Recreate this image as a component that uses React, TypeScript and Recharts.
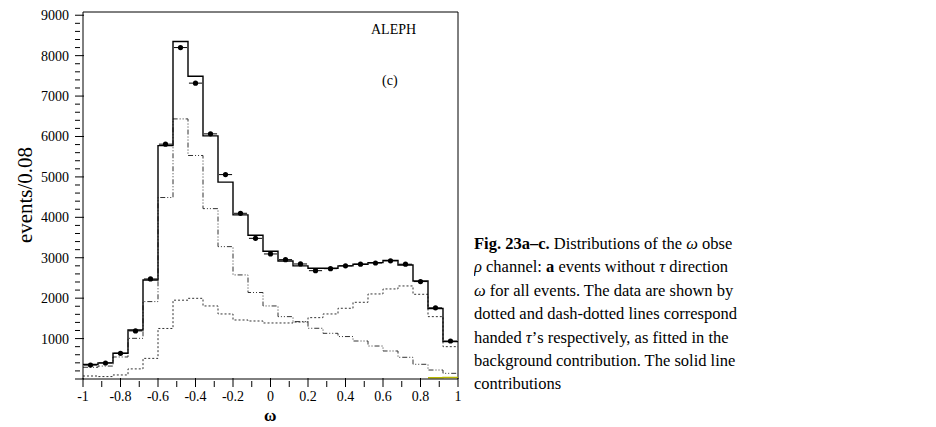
import React from "react";
import { ComposedChart, Line, Scatter, ErrorBar, XAxis, YAxis, ReferenceLine } from "recharts";

const binEdges = [-1,-0.92,-0.84,-0.76,-0.68,-0.6,-0.52,-0.44,-0.36,-0.28,-0.2,-0.12,-0.04,0.04,0.12,0.2,0.28,0.36,0.44,0.52,0.6,0.68,0.76,0.84,0.92,1];
const totalFit = [360,400,636,1213,2450,5775,8350,7490,6015,4870,4060,3556,3160,2920,2800,2740,2740,2800,2840,2880,2930,2820,2425,1745,925];
const dataPts = [346,396,636,1190,2475,5810,8200,7320,6065,5057,4100,3480,3094,2953,2846,2680,2730,2800,2840,2870,2925,2840,2410,1760,940];
const leftTau = [290,320,545,1006,1915,4490,6435,5530,4215,3275,2575,2140,1807,1543,1420,1255,1130,1050,940,816,693,537,364,222,140];
const rightTau = [74,60,100,250,510,1250,1950,1996,1807,1609,1460,1435,1386,1386,1410,1518,1609,1750,1898,2104,2228,2302,2096,1543,800];
const background = [null,null,null,null,null,null,null,null,null,null,null,null,null,null,null,null,null,null,null,null,null,null,null,30,40];
const xTicks = [-1,-0.9,-0.8,-0.7,-0.6,-0.5,-0.4,-0.3,-0.2,-0.1,0,0.1,0.2,0.3,0.4,0.5,0.6,0.7,0.8,0.9,1];
const xLabels = ["-1","-0.8","-0.6","-0.4","-0.2","0","0.2","0.4","0.6","0.8","1"];
const yTicks = Array.from({ length: 46 }, (_, i) => i * 200);
const caption = [
  "<b>Fig. 23a–c.</b> Distributions of the <i>ω</i> obse",
  "<i>ρ</i> channel: <b>a</b> events without <i>τ</i> direction",
  "<i>ω</i> for all events. The data are shown by",
  "dotted and dash-dotted lines correspond",
  "handed <i>τ</i>’s respectively, as fitted in the",
  "background contribution. The solid line",
  "contributions",
];

const hist = binEdges.map((x, i) => ({
  x,
  total: totalFit[Math.min(i, 24)],
  left: leftTau[Math.min(i, 24)],
  right: rightTau[Math.min(i, 24)],
  bg: background[Math.min(i, 24)],
}));
const pts = dataPts.map((y, i) => ({ x: (binEdges[i] + binEdges[i + 1]) / 2, y, xerr: 0.035 }));

const fmtX = (v: number) => {
  const s = String(Math.round(v * 10) / 10);
  return xLabels.includes(s) ? s : null;
};
const tstyle = { fontSize: 14, fontFamily: "Liberation Serif", fill: "#000" };

const XTick = (p: any) => {
  const lab = fmtX(p.payload.value);
  return (
    <g>
      <line x1={p.x} x2={p.x} y1={p.y} y2={p.y - (lab ? 9 : 6)} stroke="#000" />
      {lab && <text x={p.x} y={p.y + 14} textAnchor="middle" style={tstyle}>{lab}</text>}
    </g>
  );
};
const YTick = (p: any) => {
  const v = p.payload.value;
  const major = v % 1000 === 0;
  return (
    <g>
      <line x1={p.x} x2={p.x + (major ? 9 : 5)} y1={p.y} y2={p.y} stroke="#000" />
      {major && v > 0 && <text x={p.x - 6} y={p.y + 5} textAnchor="end" style={tstyle}>{v}</text>}
    </g>
  );
};

export default function App() {
  return (
    <div style={{ position: "absolute", left: 0, top: 0, width: 936, height: 427, background: "#fff", fontFamily: "Liberation Serif" }}>
      <ComposedChart width={470} height={427} data={hist} margin={{ top: 12, right: 12, bottom: 0, left: 0 }}>
        <XAxis dataKey="x" type="number" domain={[-1, 1]} ticks={xTicks} tick={<XTick />} tickLine={false} height={48} stroke="#000" interval={0} allowDataOverflow />
        <YAxis type="number" domain={[0, 9080]} ticks={yTicks} tick={<YTick />} tickLine={false} width={83} stroke="#000" interval={0} allowDataOverflow />
        <ReferenceLine y={9080} stroke="#000" />
        <ReferenceLine x={1} stroke="#000" />
        <Line dataKey="bg" type="stepAfter" stroke="#b8b800" strokeWidth={1.5} dot={false} connectNulls={false} isAnimationActive={false} />
        <Line dataKey="right" type="stepAfter" stroke="#333" strokeWidth={1} strokeDasharray="2 2" dot={false} isAnimationActive={false} />
        <Line dataKey="left" type="stepAfter" stroke="#333" strokeWidth={1} strokeDasharray="5 2 1 2 1 2" dot={false} isAnimationActive={false} />
        <Line dataKey="total" type="stepAfter" stroke="#000" strokeWidth={1.4} dot={false} isAnimationActive={false} />
        <Scatter data={pts} dataKey="y" fill="#000" shape={(p: any) => <circle cx={p.cx} cy={p.cy} r={2.6} fill="#000" />} isAnimationActive={false}>
          <ErrorBar dataKey="xerr" direction="x" width={0} stroke="#000" strokeWidth={1} />
        </Scatter>
      </ComposedChart>
      <div style={{ position: "absolute", left: 371, top: 22, fontSize: 14 }}>ALEPH</div>
      <div style={{ position: "absolute", left: 382, top: 73, fontSize: 14 }}>(c)</div>
      <div style={{ position: "absolute", left: 25, top: 195, fontSize: 21, transform: "translate(-50%,-50%) rotate(-90deg)", whiteSpace: "nowrap" }}>events/0.08</div>
      <div style={{ position: "absolute", left: 264, top: 407, fontSize: 17, fontWeight: "bold", lineHeight: "17px" }}>ω</div>
      <div style={{ position: "absolute", left: 474, top: 232, width: 462, overflow: "hidden", fontSize: 16.5, lineHeight: "23.4px", whiteSpace: "nowrap" }}>
        {caption.map((c, i) => <div key={i} dangerouslySetInnerHTML={{ __html: c }} />)}
      </div>
    </div>
  );
}
